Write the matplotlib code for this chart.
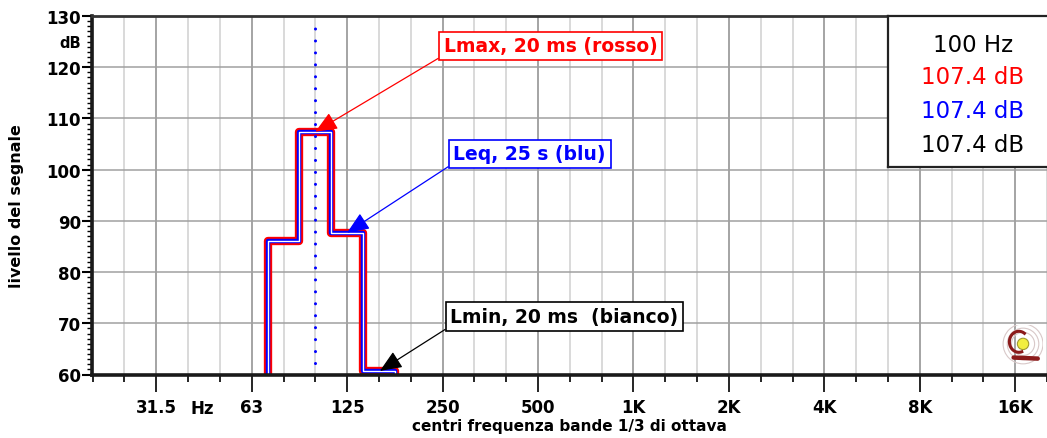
import numpy as np
import matplotlib
matplotlib.use('Agg')
import matplotlib.pyplot as plt
from matplotlib.patches import Circle

# 1/3 octave band centres shown on the axis
bands = ['20', '25', '31.5', '40', '50', '63', '80', '100', '125', '160', '200', '250',
         '315', '400', '500', '630', '800', '1K', '1.25K', '1.6K', '2K', '2.5K', '3.15K',
         '4K', '5K', '6.3K', '8K', '10K', '12.5K', '16K', '20K']
octave_labels = ['31.5', '63', '125', '250', '500', '1K', '2K', '4K', '8K', '16K']

# levels (dB) per band, nan = below the 60 dB floor of the display
nan = np.nan
lmax = [nan, nan, nan, nan, nan, nan, 86.0, 107.4, 87.7, 60.7, nan, nan, nan, nan, nan, nan,
        nan, nan, nan, nan, nan, nan, nan, nan, nan, nan, nan, nan, nan, nan, nan]
leq = [nan, nan, nan, nan, nan, nan, 86.0, 107.4, 87.7, 60.7, nan, nan, nan, nan, nan, nan,
       nan, nan, nan, nan, nan, nan, nan, nan, nan, nan, nan, nan, nan, nan, nan]
lmin = [nan, nan, nan, nan, nan, nan, 86.0, 107.4, 87.7, 60.7, nan, nan, nan, nan, nan, nan,
        nan, nan, nan, nan, nan, nan, nan, nan, nan, nan, nan, nan, nan, nan, nan]

cursor_band = '100'
readout = ['100 Hz', '107.4 dB', '107.4 dB', '107.4 dB']

ymin, ymax = 60, 130
FONT = 'DejaVu Sans'
plt.rcParams['font.family'] = FONT

W, H = 1047, 439
fig = plt.figure(figsize=(W / 100, H / 100), dpi=100)
x0, x1 = 92, 1047
y_top, y_bot = 17, 375.5
ax = fig.add_axes([x0 / W, 1 - y_bot / H, (x1 - x0) / W, (y_bot - y_top) / H])

idx = np.arange(len(bands))
edges = np.arange(len(bands) + 1) - 0.5
ax.set_xlim(-0.02, (x1 - x0) / 32.1)
ax.set_ylim(ymin, ymax)

# grid
for i, b in enumerate(bands):
    major = b in octave_labels
    ax.axvline(i, color='#8c8c8c' if major else '#d0d0d0', lw=1.1, zorder=0)
for v in range(ymin + 10, ymax, 10):
    ax.axhline(v, color='#a0a0a0', lw=1.1, zorder=0)

def show(vals):
    v = np.array(vals, dtype=float)
    return np.where(np.isnan(v), ymin - 8, v)

ax.stairs(show(lmax), edges, baseline=None, color='#ff0000', lw=6.0, joinstyle='round', zorder=3)
ax.stairs(show(leq), edges, baseline=None, color='#0000ff', lw=3.2, joinstyle='round', zorder=4)
ax.stairs(show(lmin), edges, baseline=None, color='white', lw=1.0, joinstyle='round', zorder=5)

# cursor
ax.axvline(bands.index(cursor_band), color='#0000ff', lw=2.2, linestyle=(0, (0.01, 3.9)),
           dash_capstyle='round', ymax=0.985, zorder=6)

# spines
for s in ['left', 'bottom']:
    ax.spines[s].set_linewidth(2.6)
    ax.spines[s].set_color('#1a1a1a')
ax.spines['top'].set_linewidth(2.0)
ax.spines['top'].set_color('#333333')
ax.spines['right'].set_visible(False)
for s in ax.spines.values():
    s.set_zorder(7)

# ticks
maj = [bands.index(b) for b in octave_labels]
ax.set_xticks(maj)
ax.set_xticklabels(octave_labels, fontsize=12, fontweight='bold')
ax.set_xticks([i for i in idx if i not in maj], minor=True)
ax.tick_params(axis='x', which='major', length=12, width=1.2, pad=5, direction='out')
ax.tick_params(axis='x', which='minor', length=5, width=1.2, direction='out')
ax.set_yticks(range(ymin, ymax + 1, 10))
ax.set_yticklabels([str(v) for v in range(ymin, ymax + 1, 10)], fontsize=12, fontweight='bold')
ax.set_yticks(range(ymin, ymax + 1), minor=True)
ax.tick_params(axis='y', which='major', length=7, width=1.5, pad=1)
ax.tick_params(axis='y', which='minor', length=3.5, width=1)

ax.text(3.46, -0.094, 'Hz', transform=ax.get_xaxis_transform(), ha='center', va='center',
        fontsize=12, fontweight='bold')
fig.text(70 / W, 1 - 43 / H, 'dB', ha='center', va='center', fontsize=10.5, fontweight='bold')
fig.text(17 / W, 1 - 206 / H, 'livello del segnale', rotation=90, ha='center', va='center',
         fontsize=11.5, fontweight='bold')
fig.text(569 / W, 1 - 427 / H, 'centri frequenza bande 1/3 di ottava', ha='center', va='center',
         fontsize=11, fontweight='bold')

# annotations
def label(txt, col, xy, xytext):
    ax.annotate(txt, xy=xy, xytext=xytext, color=col, fontsize=13.5, fontweight='bold',
                ha='center', va='center', zorder=9,
                bbox=dict(boxstyle='square,pad=0.25', fc='white', ec=col, lw=1.2),
                arrowprops=dict(arrowstyle='-|>,head_length=1.0,head_width=0.42', color=col, lw=0.9,
                                relpos=(0, 0), shrinkA=0, shrinkB=0))

i100 = bands.index('100')
i125 = bands.index('125')
i160 = bands.index('160')
label('Lmax, 20 ms (rosso)', '#ff0000', (i100, lmax[i100]), (14.39, 124.2))
label('Leq, 25 s (blu)', '#0000ff', (i125, leq[i125]), (13.74, 103.1))
label('Lmin, 20 ms  (bianco)', 'black', (i160 + 0.03, lmin[i160]), (14.83, 71.3))

# readout box
rx0, ry1 = 888, 168
box = fig.add_axes([rx0 / W, 1 - ry1 / H, (W - rx0 + 2) / W, (ry1 - y_top) / H])
box.set_xticks([])
box.set_yticks([])
for s in box.spines.values():
    s.set_linewidth(1.6)
    s.set_color('#222222')
box.set_xlim(0, 1)
box.set_ylim(1, 0)
ycen = [45, 77, 112, 145]
colors = ['black', '#ff0000', '#0000ff', 'black']
for t, c, yc in zip(readout, colors, ycen):
    box.text((973 - rx0) / (W - rx0 + 2), (yc - y_top) / (ry1 - y_top), t, color=c,
             fontsize=16.5, ha='center', va='center')

# small logo
lg = fig.add_axes([1001 / W, 1 - 368 / H, 42 / W, 42 / H])
lg.set_xlim(-1, 1)
lg.set_ylim(-1, 1)
lg.set_aspect('equal')
lg.axis('off')
for r in [0.95, 0.75, 0.55]:
    lg.add_patch(Circle((0.05, 0.1), r, fill=False, ec='#d8c8c8', lw=0.8))
lg.add_patch(Circle((0.05, 0.1), 0.27, fc='#f2ee40', ec='#a09a30', lw=0.8))
t = np.linspace(0.3 * np.pi, 1.6 * np.pi, 50)
lg.plot(-0.15 + 0.45 * np.cos(t), 0.2 + 0.5 * np.sin(t), color='#8b1a1a', lw=2.2)
lg.plot([-0.4, 0.75], [-0.55, -0.6], color='#8b1a1a', lw=3.2, solid_capstyle='round')

fig.savefig('out.png', dpi=100, facecolor='white')
